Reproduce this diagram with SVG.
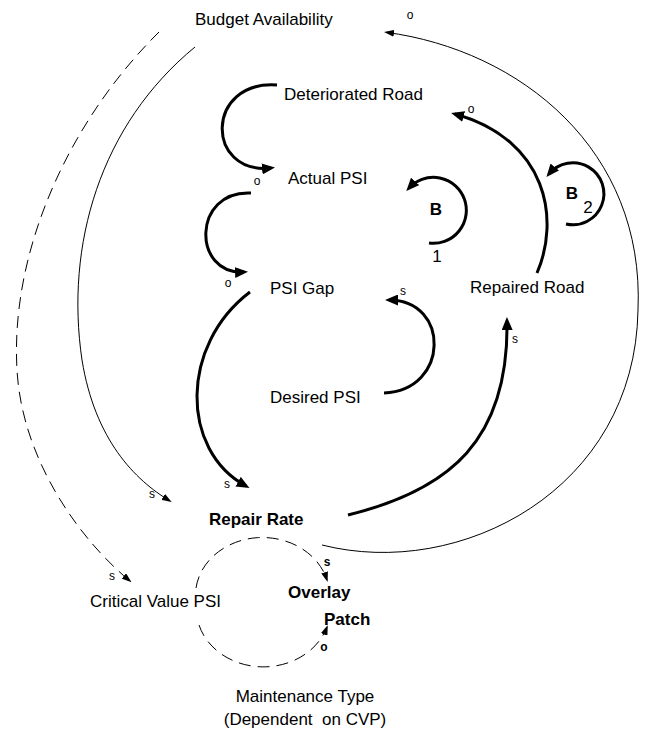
<svg xmlns="http://www.w3.org/2000/svg" width="645" height="729" viewBox="0 0 645 729">
<style>
text{font-family:"Liberation Sans",Arial,sans-serif;fill:#000}
.n{font-size:17px}
.nb{font-size:17px;font-weight:bold}
.lb{font-size:12px}
.lbb{font-size:12px;font-weight:bold}
.thick{fill:none;stroke:#000;stroke-width:3;marker-end:url(#ah)}
.thin{fill:none;stroke:#000;stroke-width:1;marker-end:url(#as)}
.dash{stroke-dasharray:12 7}
</style>
<defs>
<marker id="ah" viewBox="0 0 13 11" refX="9" refY="5.5" markerWidth="13" markerHeight="11" orient="auto" markerUnits="userSpaceOnUse"><path d="M0,0 L13,5.5 L0,11 z" fill="#000"/></marker>
<marker id="as" viewBox="0 0 10 7" refX="8" refY="3.5" markerWidth="10" markerHeight="7" orient="auto" markerUnits="userSpaceOnUse"><path d="M0,0 L10,3.5 L0,7 z" fill="#000"/></marker>
</defs>
<rect width="645" height="729" fill="#fff"/>
<g id="connectors">
<path class="thin dash" d="M159,32 C70,120 10,250 17,370 C22,460 80,540 130,581"/>
<path class="thin" d="M195,47 C100,125 65,245 82,360 C95,440 135,480 170,501"/>
<path class="thin" d="M322,545 C460,580 635,490 638,310 C645,150 520,50 386,32.3"/>
<path class="thick" d="M277,85 C205,80 205,175 271,168"/>
<path class="thick" d="M251,193 C192,190 192,275 244,272"/>
<path class="thick" d="M250,292 C180,345 180,450 246,486"/>
<path class="thick" d="M384,393 C450,390 450,300 389,300"/>
<path class="thick" d="M348,515 C450,490 509,440 507,321"/>
<path class="thick" d="M537,273 C560,220 548,140 455,114"/>
<path class="thick" d="M429,243 A33,33 0 1 0 409,188"/>
<path class="thick" d="M566,224 A31,31 0 1 0 549,174"/>
<path class="thin dash" d="M196,588 A67,58 0 0 1 327,580"/>
<path class="thin dash" d="M199,625 A67,58 0 0 0 327,627"/>
<text class="lb" x="410" y="19" text-anchor="middle">o</text>
<text class="lb" x="471" y="113" text-anchor="middle">o</text>
<text class="lb" x="257" y="185" text-anchor="middle">o</text>
<text class="lb" x="228" y="287" text-anchor="middle">o</text>
<text class="lb" x="403" y="295" text-anchor="middle">s</text>
<text class="lb" x="515" y="343" text-anchor="middle">s</text>
<text class="lb" x="227" y="488" text-anchor="middle">s</text>
<text class="lb" x="152" y="498" text-anchor="middle">s</text>
<text class="lb" x="112" y="580" text-anchor="middle">s</text>
<text class="lbb" x="327" y="566" text-anchor="middle">s</text>
<text class="lbb" x="324" y="651" text-anchor="middle">o</text>
</g>
<g id="loop-b1">
<text class="nb" x="436" y="215" text-anchor="middle">B</text>
<text class="n" x="437" y="262" text-anchor="middle">1</text>
</g>
<g id="loop-b2">
<text class="nb" x="572" y="199" text-anchor="middle">B</text>
<text class="n" x="588" y="213" text-anchor="middle">2</text>
</g>
<g id="budget-availability"><text class="n" x="195" y="25">Budget Availability</text></g>
<g id="deteriorated-road"><text class="n" x="284" y="100">Deteriorated Road</text></g>
<g id="actual-psi"><text class="n" x="288" y="184">Actual PSI</text></g>
<g id="psi-gap"><text class="n" x="270" y="294">PSI Gap</text></g>
<g id="repaired-road"><text class="n" x="470" y="293">Repaired Road</text></g>
<g id="desired-psi"><text class="n" x="270" y="403">Desired PSI</text></g>
<g id="repair-rate"><text class="nb" x="209" y="525">Repair Rate</text></g>
<g id="critical-value-psi"><text class="n" x="90" y="607">Critical Value PSI</text></g>
<g id="overlay"><text class="nb" x="288" y="598">Overlay</text></g>
<g id="patch"><text class="nb" x="324" y="625">Patch</text></g>
<g id="maintenance-type">
<text class="n" x="305" y="702" text-anchor="middle">Maintenance Type</text>
<text class="n" x="305" y="725" text-anchor="middle" xml:space="preserve">(Dependent  on CVP)</text>
</g>
</svg>
